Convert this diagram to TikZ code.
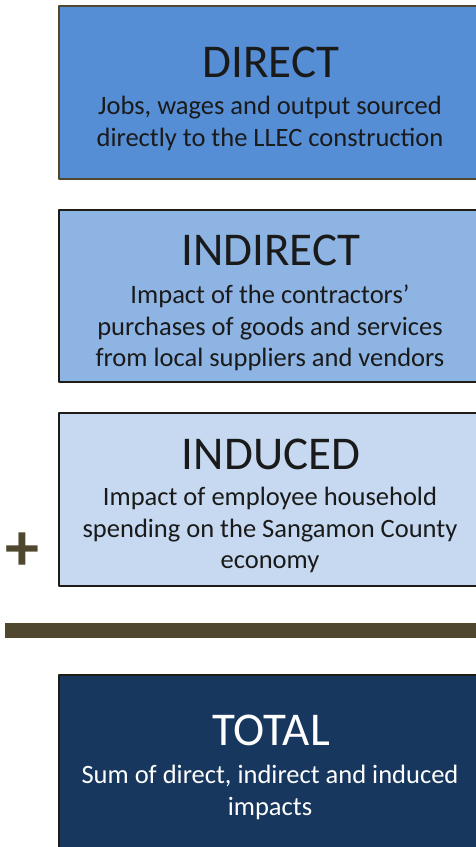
\documentclass[tikz,border=0pt]{standalone}
\usepackage{fontspec}
\setmainfont{Carlito}
\usepackage{xcolor}
\usepackage{tikz}
\usetikzlibrary{positioning}

\definecolor{directblue}{RGB}{85,142,213}
\definecolor{indirectblue}{RGB}{142,180,227}
\definecolor{inducedblue}{RGB}{198,217,241}
\definecolor{totalblue}{RGB}{23,55,94}
\definecolor{olivebar}{RGB}{79,72,46}
\definecolor{edgedark}{RGB}{30,28,22}
\definecolor{inkdark}{RGB}{26,26,26}

\tikzset{
  impactbox/.style={draw=edgedark, line width=2pt, outer sep=0pt, inner sep=0pt,
    minimum width=425pt, anchor=north west},
  titletext/.style={font=\fontsize{47}{55}\selectfont, text=inkdark, inner sep=0pt, anchor=base},
  bodytext/.style={font=\fontsize{26.5}{31.5}\selectfont, text=inkdark, inner sep=0pt,
    align=center, anchor=north},
}

\begin{document}
\begin{tikzpicture}[x=1pt,y=-1pt,line cap=round,line join=round]
\clip (0,0) rectangle (476,847);

% the three parts
\node[impactbox, fill=directblue, draw=olivebar, minimum height=173pt] (direct) at (59,6) {};
\node[titletext] (directtitle) at (271,77) {DIRECT};
\node[bodytext] (directbody) at (270,96) {Jobs, wages and output sourced\\directly to the LLEC construction};

\node[impactbox, fill=indirectblue, minimum height=172pt] (indirect) at (59,210) {};
\node[titletext] (indirecttitle) at (271,265) {INDIRECT};
\node[bodytext] (indirectbody) at (270,285) {Impact of the contractors'\\purchases of goods and services\\from local suppliers and vendors};

\node[impactbox, fill=inducedblue, minimum height=173pt] (induced) at (59,413) {};
\node[titletext] (inducedtitle) at (271,469) {INDUCED};
\node[bodytext] (inducedbody) at (270,487) {Impact of employee household\\spending on the Sangamon County\\economy};

\node[font=\fontsize{68}{72}\selectfont\bfseries, text=olivebar, inner sep=0pt] (plus) at (22,552) {+};

% sum line
\fill[olivebar] (5,623) rectangle (476,638);

% total
\node[impactbox, fill=totalblue, minimum height=190pt] (total) at (59,675) {};
\node[titletext, text=white] (totaltitle) at (271,745) {TOTAL};
\node[bodytext, text=white] (totalbody) at (270,765) {Sum of direct, indirect and induced\\impacts};
\end{tikzpicture}
\end{document}
